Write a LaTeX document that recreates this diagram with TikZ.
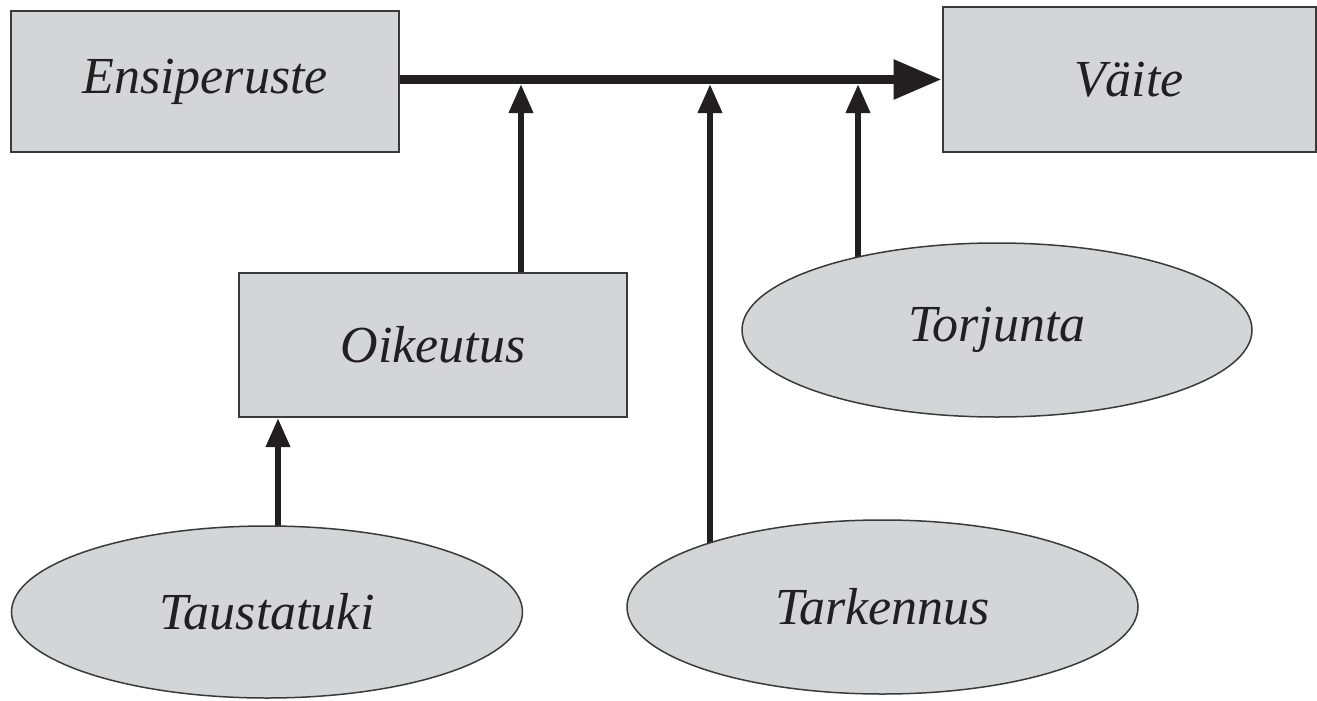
\documentclass[tikz,border=0pt]{standalone}
\usepackage{fontspec}
\setmainfont{Liberation Serif}
\usetikzlibrary{arrows.meta,shapes.geometric}
\pgfdeclarelayer{bg}
\pgfsetlayers{bg,main}
\definecolor{boxfill}{HTML}{D4D5D7}
\definecolor{edge}{HTML}{3A3A3A}
\definecolor{ink}{HTML}{231F20}
\begin{document}
\begin{tikzpicture}[x=1pt,y=-1pt,
  lbl/.style={font=\fontsize{52}{60}\selectfont\itshape, text=ink},
  boxnode/.style={lbl, draw=edge, line width=2pt, fill=boxfill, rectangle, inner sep=0pt},
  ellnode/.style={lbl, draw=edge, line width=1.5pt, fill=boxfill, ellipse, inner sep=0pt},
  mainarrow/.style={draw=ink, line width=9pt, -{Triangle[length=48pt,width=38pt]}},
  subarrow/.style={draw=ink, line width=6.5pt, -{Triangle[length=29pt,width=23pt]}}]
\useasboundingbox (0,0) rectangle (1317,701);
% nodes
\node[boxnode, minimum width=388pt, minimum height=141pt] (ensi) at (205,81.5) {Ensiperuste};
\node[boxnode, minimum width=373pt, minimum height=145pt] (vaite) at (1129,79.5) {Väite};
\node[boxnode, minimum width=388pt, minimum height=144pt] (oik) at (433,345) {Oikeutus};
\node[ellnode, minimum width=510pt, minimum height=174pt] (torj) at (997,330) {Torjunta};
\node[ellnode, minimum width=511pt, minimum height=174pt] (tark) at (882.5,607) {Tarkennus};
\node[ellnode, minimum width=511pt, minimum height=172pt] (taus) at (267,612) {Taustatuki};
% junction points
\coordinate (j1) at (521,84);
\coordinate (j2) at (710,84);
\coordinate (j3) at (858,84);
\path (oik.south) ++(-155,0) coordinate (j4);
\begin{pgfonlayer}{bg}
\fill[white] (0,0) rectangle (1317,701);
\draw[mainarrow] (ensi.east |- vaite.west) -- (vaite.west);
\draw[subarrow] (oik.north -| j1) -- (j1);
\draw[subarrow] (tark.center -| j2) -- (j2);
\draw[subarrow] (torj.center -| j3) -- (j3);
\draw[subarrow] (taus.center -| j4) -- (j4);
\end{pgfonlayer}
\end{tikzpicture}
\end{document}
